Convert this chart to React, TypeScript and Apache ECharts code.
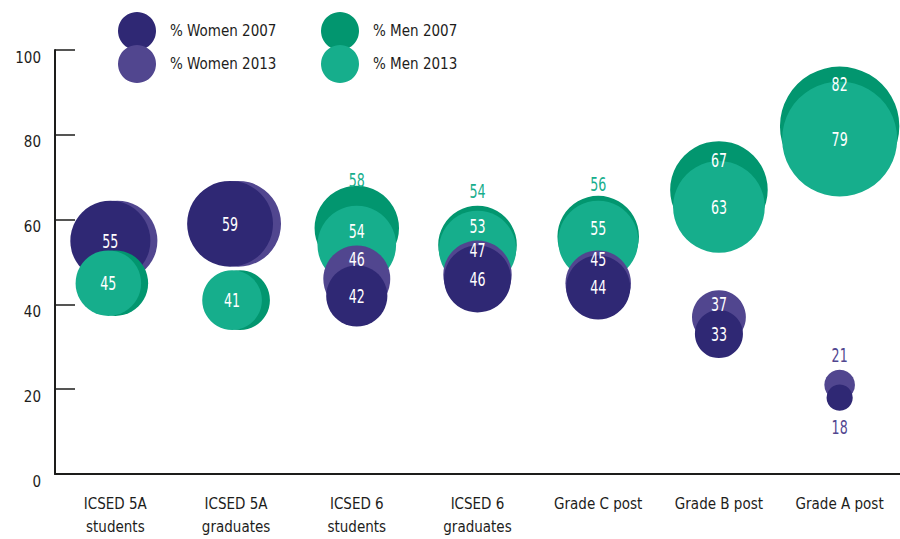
import React, { useEffect, useRef } from "react";
import * as echarts from "echarts";

// ---- data ----
const categories = [
  "ICSED 5A\nstudents",
  "ICSED 5A\ngraduates",
  "ICSED 6\nstudents",
  "ICSED 6\ngraduates",
  "Grade C post",
  "Grade B post",
  "Grade A post",
];
const women2007 = [55, 59, 42, 46, 44, 33, 18];
const women2013 = [55, 59, 46, 47, 45, 37, 21];
const men2007 = [45, 41, 58, 54, 56, 67, 82];
const men2013 = [45, 41, 54, 53, 55, 63, 79];
const yTicks = [0, 20, 40, 60, 80, 100];
const seriesNames = ["% Men 2007", "% Men 2013", "% Women 2013", "% Women 2007"];

// ---- styles ----
const FONT =
  '"Liberation Sans Narrow", "Arial Narrow", "DejaVu Sans Condensed", sans-serif';
const TEXT_COLOR = "#1d1d1b";
// order: M07, M13, W13, W07
const COLORS = ["#02966f", "#16ae8c", "#51468f", "#2f2874"];
const RADIUS_PER_UNIT = 0.728; // px of radius per percentage point
// horizontal shift (px) of each bubble from its category centre
const X_SHIFT = [
  [0, -7, 2, -5],
  [4, -4, 2, -6],
  [0, 0, 0, 0],
  [0, 0, 0, 0],
  [0, 0, 0, 0],
  [0, 0, 0, 0],
  [0, 0, 0, 0],
];
// label vertical offset (px) from bubble centre; null = no label
const LABEL_DY: (number | null)[][] = [
  [null, 0, null, 0],
  [null, 0, null, 0],
  [-48, -14, -20, 0],
  [-54, -23, -25, 0],
  [-52, -13, -24, 0],
  [-30, 0, -13, 0],
  [-42, 0, -30, 29],
];
// label drawn outside its bubble (coloured) or inside (white)
const LABEL_OUT = [
  [false, false, false, false],
  [false, false, false, false],
  [true, false, false, false],
  [true, false, false, false],
  [true, false, false, false],
  [false, false, false, false],
  [false, false, true, true],
];

export default function App() {
  const ref = useRef<HTMLDivElement>(null);

  useEffect(() => {
    if (!ref.current) return;
    const chart = echarts.init(ref.current, undefined, { renderer: "svg" });

    const bubbleData = categories.map((_, i) => [
      i,
      men2007[i],
      men2013[i],
      women2013[i],
      women2007[i],
    ]);

    const renderItem = (params: any, api: any) => {
      const i = params.dataIndex;
      const vals = [api.value(1), api.value(2), api.value(3), api.value(4)] as number[];
      const order = [0, 1, 2, 3].sort((a, b) => vals[b] - vals[a] || a - b);
      const circles: any[] = [];
      const pos: { x: number; y: number; r: number }[] = [];
      for (let k = 0; k < 4; k++) {
        const p = api.coord([i, vals[k]]);
        pos[k] = { x: p[0] + X_SHIFT[i][k], y: p[1], r: vals[k] * RADIUS_PER_UNIT };
      }
      for (const k of order) {
        circles.push({
          type: "circle",
          shape: { cx: pos[k].x, cy: pos[k].y, r: pos[k].r },
          style: { fill: COLORS[k] },
        });
      }
      const texts: any[] = [];
      for (let k = 0; k < 4; k++) {
        const dy = LABEL_DY[i][k];
        if (dy === null) continue;
        const out = LABEL_OUT[i][k];
        texts.push({
          type: "text",
          x: pos[k].x,
          y: pos[k].y + dy,
          scaleX: 0.78,
          scaleY: 1.08,
          style: {
            text: String(vals[k]),
            x: 0,
            y: 0,
            align: "center",
            verticalAlign: "middle",
            fill: out ? (k === 0 ? COLORS[1] : COLORS[2]) : "#ffffff",
            fontSize: 18,
            fontFamily: FONT,
          },
        });
      }
      return { type: "group", children: [...circles, ...texts] };
    };

    const legendBase = {
      orient: "vertical" as const,
      top: 12,
      padding: 0,
      itemWidth: 38,
      itemHeight: 38,
      itemGap: -5,
      icon: "circle",
      selectedMode: false,
      textStyle: {
        fontSize: 15,
        fontFamily: FONT,
        color: TEXT_COLOR,
        padding: [0, 0, 0, 9],
      },
    };

    chart.setOption({
      animation: false,
      backgroundColor: "#ffffff",
      grid: { left: 55, right: -10, top: 50, bottom: 65 },
      legend: [
        { ...legendBase, left: 118, data: ["% Women 2007", "% Women 2013"] },
        { ...legendBase, left: 321, data: ["% Men 2007", "% Men 2013"] },
      ],
      xAxis: {
        type: "category",
        data: categories,
        boundaryGap: true,
        axisLine: { lineStyle: { color: TEXT_COLOR, width: 2 } },
        axisTick: { inside: true, length: 9, lineStyle: { color: TEXT_COLOR, width: 1.5 } },
        axisLabel: {
          interval: 0,
          margin: 18,
          lineHeight: 23,
          fontSize: 15,
          fontFamily: FONT,
          color: TEXT_COLOR,
        },
      },
      yAxis: {
        type: "value",
        min: yTicks[0],
        max: yTicks[yTicks.length - 1],
        interval: yTicks[1] - yTicks[0],
        splitLine: { show: false },
        axisLine: { show: true, lineStyle: { color: TEXT_COLOR, width: 2 } },
        axisTick: { show: true, inside: true, length: 20, lineStyle: { color: TEXT_COLOR, width: 1.5 } },
        axisLabel: {
          margin: 14,
          verticalAlign: "top",
          fontSize: 15,
          fontFamily: FONT,
          color: TEXT_COLOR,
        },
      },
      series: [
        ...seriesNames.map((name, k) => ({
          name,
          type: "scatter",
          data: [],
          itemStyle: { color: COLORS[k], opacity: 1 },
        })),
        {
          name: "bubbles",
          type: "custom",
          renderItem,
          clip: false,
          encode: { x: 0, y: 1 },
          data: bubbleData,
        },
      ],
    });

    return () => chart.dispose();
  }, []);

  return (
    <div
      ref={ref}
      style={{ position: "fixed", left: 0, top: 0, width: 900, height: 539 }}
    />
  );
}
